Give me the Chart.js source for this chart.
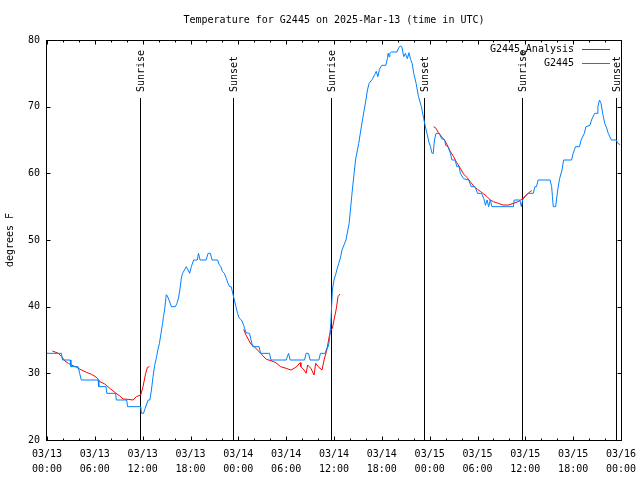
<!DOCTYPE html>
<html><head><meta charset="utf-8">
<script src="https://cdn.jsdelivr.net/npm/chart.js@4/dist/chart.umd.min.js"></script>
<style>html,body{margin:0;padding:0;background:#fff}#wrap{width:640px;height:480px}</style>
</head><body><div id="wrap"><canvas id="c" width="640" height="480"></canvas></div>
<script>
const chartTitle = 'Temperature for G2445 on 2025-Mar-13 (time in UTC)';
const yAxisLabel = 'degrees F';
const tickDates = ['03/13','03/13','03/13','03/13','03/14','03/14','03/14','03/14','03/15','03/15','03/15','03/15','03/16'];
const tickTimes = ['00:00','06:00','12:00','18:00','00:00','06:00','12:00','18:00','00:00','06:00','12:00','18:00','00:00'];
const yTicks = [20, 30, 40, 50, 60, 70, 80];

// hours since 03/13 00:00 UTC
const blueHours = [0,1.8,1.95,2.9,3.0,3.9,4.1,4.3,6.4,6.5,7.4,7.5,8.6,8.7,10.0,10.1,11.75,11.85,12.1,12.3,12.5,12.7,12.9,13.1,13.3,13.5,13.7,13.9,14.1,14.3,14.5,14.6,14.75,14.96,15.1,15.4,15.6,16.1,16.3,16.5,16.7,16.85,17.0,17.25,17.46,17.7,17.9,18.1,18.4,18.85,19.0,19.2,19.96,20.2,20.5,20.7,21.4,21.6,21.8,22.0,22.25,22.5,22.7,22.9,23.1,23.3,23.5,23.7,23.9,24.1,24.4,24.67,24.96,25.4,25.6,25.8,26.6,26.8,27.9,28.1,30.0,30.3,30.5,32.3,32.5,32.8,33.0,34.1,34.3,34.9,35.1,35.3,35.45,35.6,35.8,36.0,36.2,36.4,36.6,36.8,37.0,37.5,37.9,38.3,38.7,39.1,39.5,39.96,40.2,40.4,40.8,41.1,41.3,41.5,41.7,42.0,42.5,42.7,42.8,42.9,43.0,43.2,43.9,44.1,44.3,44.5,44.75,44.96,45.2,45.4,45.6,45.8,46.0,46.3,46.6,46.96,47.25,47.46,47.7,47.9,48.1,48.3,48.45,48.6,48.8,49.2,49.5,49.9,50.0,50.3,50.6,50.8,51.2,51.4,51.7,51.85,52.25,52.9,53.2,53.7,54.0,54.5,54.8,55.0,55.2,55.4,55.6,55.8,58.5,58.6,59.3,59.5,59.65,59.96,60.4,61.0,61.2,61.4,61.6,63.1,63.3,63.4,63.5,63.8,63.9,64.1,64.3,64.6,64.8,65.8,66.0,66.3,66.8,67.0,67.4,67.6,68.1,68.3,68.7,69.0,69.1,69.3,69.5,69.7,69.96,70.2,70.4,70.8,71.4,71.6,71.9];
const blueTemps = [33,33,32,32,31,31,30,29,29,28,28,27,27,26,26,25,25,24,24,24.7,25.4,26,26,27.5,29.5,31.2,32.2,33.5,34.5,36,37.5,38.5,39.5,41.8,41.6,40.7,40,40,40.5,41.3,42.8,44.3,45,45.5,46,45.5,45,46,47,47,48,47,47,48,48,47,47,46.3,46,45.3,45,44.2,43.5,43,43,42,41,40,39,38.3,38,37.2,36.1,36,35,34,34,33,33,32,32,33,32,32,33,33,32,32,33,33,33.8,34,35.3,37.5,42.5,44,44.8,45.7,46.5,47.3,48.5,50,52.5,57.5,62,64.5,67.5,70.7,72.5,73.5,74.1,74.8,75.3,74.5,75.6,76.2,76.2,77.2,78,77.5,78,78.2,78.2,78.8,79.1,79,77.5,78,77.2,78.1,77.1,76.5,75,73.5,71.5,70,68.2,67,65.8,64.7,64,63,63,65,66,66,65.2,65,64.2,64,63,62,62,61,61,60,59.2,59,58,58,57,57,56.2,55.2,56,55,56,55,55,56,56,55,56,56.5,57,57,58,58,59,59,58,56.5,55,55,56,57.8,59.2,60.5,62,62,63,64,64,65,66,67,67.2,68,69,69,70,71,70.5,69,67.5,66.8,66,65,65,64.5,64.3];

const redHours = [0.67,1.0,1.42,1.83,2.25,2.67,3.08,3.71,4.33,4.96,5.58,6.21,6.63,7.25,7.88,8.5,9.13,9.54,10.17,10.79,11.21,11.75,12.04,12.375,12.6,12.85,18,24.67,24.96,25.3,25.6,26.0,26.4,26.8,27.5,28.1,28.7,29.3,30.0,30.6,31.0,31.4,31.75,31.85,32.25,32.5,32.7,33.1,33.5,33.7,34.1,34.5,34.75,35.1,35.4,35.6,35.8,36.0,36.3,36.5,36.75,42,48.5,48.8,49.1,49.5,49.9,50.2,50.6,51.0,51.4,51.85,52.25,52.7,53.1,53.5,54.0,54.4,54.8,55.2,55.6,56.0,56.6,57.2,57.9,58.5,59.1,59.7,60.1,60.6,60.8];
const redTemps = [33.35,33.2,33.0,32.5,31.85,31.5,31.25,30.9,30.5,30.15,29.85,29.4,28.75,28.4,27.75,27.15,26.6,26.15,26.1,26.0,26.5,26.75,28.0,30.0,30.9,31.0,null,36.6,35.75,35,34.35,34,33.5,33,32.1,31.9,31.6,31,30.75,30.5,30.75,31.1,31.6,31,30.5,30,31.25,30.75,29.75,31.5,30.9,30.5,32,33.5,35.5,36.5,36.75,38,39.75,41.5,41.9,null,67,66.75,66.1,65.5,64.9,64.25,63.25,62.5,61.6,60.75,59.9,59.35,58.75,58.1,57.6,57.25,56.9,56.5,56,55.75,55.5,55.25,55.25,55.5,55.75,56.25,56.75,57.25,57.4];

const sunHours = [11.62, 23.28, 35.58, 47.3, 59.55, 71.33];
const sunLabels = ['Sunrise','Sunset','Sunrise','Sunset','Sunrise','Sunset'];
const seriesNames = ['G2445', 'Analysis', 'a'];
const seriesColors = ['#ff0000', '#0080ff'];

const FONT = 'DejaVu Sans Mono';
Chart.defaults.color = '#000';
Chart.defaults.font.family = FONT;
Chart.defaults.font.size = 10;

const toPts = (hs, ts) => hs.map((h, i) => ({x: h, y: ts[i]}));

const decor = {
  id: 'decor',
  beforeDatasetsDraw(chart) {
    const {ctx, chartArea: a, scales: {x}} = chart;
    ctx.save();
    ctx.strokeStyle = '#000';
    ctx.lineWidth = 1;
    ctx.fillStyle = '#000';
    ctx.font = '10px ' + FONT;
    sunHours.forEach((h, i) => {
      const px = Math.round(x.getPixelForValue(h)) + 0.5;
      ctx.beginPath();
      ctx.moveTo(px, 98);
      ctx.lineTo(px, a.bottom);
      ctx.stroke();
      ctx.save();
      ctx.translate(px + 0.5, 92);
      ctx.rotate(-Math.PI / 2);
      ctx.textAlign = 'left';
      ctx.textBaseline = 'middle';
      ctx.fillText(sunLabels[i], 0, 0);
      ctx.restore();
    });
    ctx.restore();
  },
  afterDatasetsDraw(chart) {
    const {ctx, chartArea: a, scales: {x, y}} = chart;
    ctx.save();
    ctx.strokeStyle = '#000';
    ctx.lineWidth = 1;
    const L = 46.5, R = 621.5, T = 40.5, B = 440.5;
    ctx.strokeRect(L, T, R - L, B - T);
    ctx.beginPath();
    for (let h = 0; h <= 72; h += 2) {
      const px = Math.round(x.getPixelForValue(h)) + 0.5;
      const len = h % 6 === 0 ? 4 : 2;
      ctx.moveTo(px, B); ctx.lineTo(px, B - len);
      ctx.moveTo(px, T); ctx.lineTo(px, T + len);
    }
    yTicks.forEach(v => {
      const py = Math.round(y.getPixelForValue(v)) + 0.5;
      ctx.moveTo(L, py); ctx.lineTo(L + 4, py);
      ctx.moveTo(R, py); ctx.lineTo(R - 4, py);
    });
    ctx.stroke();

    // title
    ctx.fillStyle = '#000';
    ctx.font = '10px ' + FONT;
    ctx.textAlign = 'center';
    ctx.textBaseline = 'middle';
    ctx.fillText(chartTitle, (L + R) / 2, 20);

    // legend
    ctx.textAlign = 'right';
    ctx.fillText(seriesNames[1], 574, 49);
    ctx.fillText(seriesNames[0], 520, 49);
    ctx.font = '8px ' + FONT;
    ctx.textAlign = 'left';
    ctx.fillText(seriesNames[2], 520.5, 53);
    ctx.font = '10px ' + FONT;
    ctx.textAlign = 'right';
    ctx.fillText(seriesNames[0], 574, 63);
    ctx.lineWidth = 1;
    ctx.strokeStyle = seriesColors[0];
    ctx.beginPath(); ctx.moveTo(582, 49.5); ctx.lineTo(610, 49.5); ctx.stroke();
    ctx.strokeStyle = seriesColors[1];
    ctx.beginPath(); ctx.moveTo(582, 63.5); ctx.lineTo(610, 63.5); ctx.stroke();
    ctx.restore();
  }
};

new Chart(document.getElementById('c'), {
  type: 'line',
  data: {
    datasets: [
      {label: seriesNames[0], data: toPts(blueHours, blueTemps), borderColor: seriesColors[1], borderWidth: 1, pointRadius: 0, tension: 0, fill: false, order: 0},
      {label: seriesNames[0] + '_' + seriesNames[1], data: toPts(redHours, redTemps), borderColor: seriesColors[0], borderWidth: 1, pointRadius: 0, tension: 0, fill: false, spanGaps: false, order: 1}
    ]
  },
  options: {
    responsive: false,
    animation: false,
    devicePixelRatio: 1,
    parsing: true,
    layout: {padding: {left: 0, right: 19, top: 40, bottom: 0}},
    plugins: {legend: {display: false}, title: {display: false}, tooltip: {enabled: false}},
    scales: {
      x: {
        type: 'linear', min: 0, max: 72,
        grid: {display: false, drawTicks: false},
        border: {display: false},
        afterFit: s => { s.height = 40; s.paddingLeft = 0; s.paddingRight = 0; },
        ticks: {
          stepSize: 6, autoSkip: false, maxRotation: 0, padding: 7,
          font: {family: FONT, size: 10, lineHeight: 1.5},
          callback: v => { const i = Math.round(v / 6); return [tickDates[i], tickTimes[i]]; }
        }
      },
      y: {
        min: 20, max: 80,
        grid: {display: false, drawTicks: false},
        border: {display: false},
        afterFit: s => { s.width = 47; s.paddingTop = 0; s.paddingBottom = 0; },
        title: {display: true, text: yAxisLabel, padding: {top: 4, bottom: 0}, font: {family: FONT, size: 10}},
        ticks: {stepSize: 10, padding: 7, font: {family: FONT, size: 10}}
      }
    }
  },
  plugins: [decor]
});
</script></body></html>
